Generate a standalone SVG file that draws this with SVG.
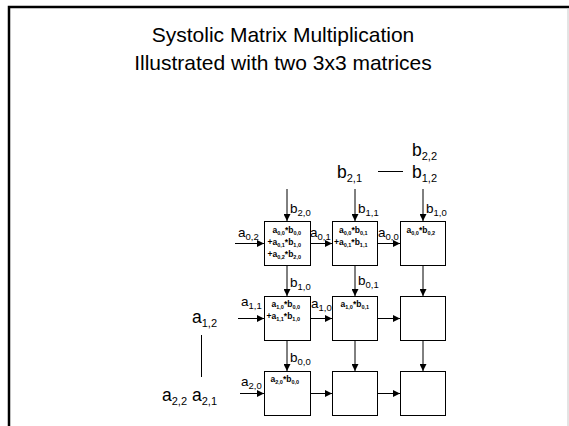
<svg xmlns="http://www.w3.org/2000/svg" width="569" height="426" viewBox="0 0 569 426">
<defs>
<marker id="ah" viewBox="0 0 8 8" refX="8" refY="4" markerWidth="7" markerHeight="7" markerUnits="userSpaceOnUse" orient="auto">
<path d="M0,0 L8,4 L0,8 z" fill="#000"/>
</marker>
<style>
text{font-family:"Liberation Sans",Arial,sans-serif;fill:#000}
.title{font-size:21px;text-anchor:middle}
.lbl{font-size:13.5px}
.big{font-size:17.5px}
.cell{font-size:8.5px;font-weight:bold}
.box{fill:#fff;stroke:#000;stroke-width:1}
.conn line{stroke:#000;stroke-width:1;marker-end:url(#ah)}
.plain{stroke:#000;stroke-width:1}
</style>
</defs>
<rect x="0" y="0" width="569" height="426" fill="#fff"/>
<path d="M9,426 V7 H569" fill="none" stroke="#000" stroke-width="2.5"/>
<line x1="568" y1="8" x2="568" y2="426" stroke="#c8c8c8" stroke-width="1"/>
<g id="title">
<text class="title" x="283" y="42">Systolic Matrix Multiplication</text>
<text class="title" x="283" y="70">Illustrated with two 3x3 matrices</text>
</g>
<g id="conn" class="conn">
<line x1="287" y1="189" x2="287" y2="221"/>
<line x1="355" y1="189" x2="355" y2="221"/>
<line x1="423" y1="189" x2="423" y2="221"/>
<line x1="287" y1="266" x2="287" y2="296"/>
<line x1="355" y1="266" x2="355" y2="296"/>
<line x1="423" y1="266" x2="423" y2="296"/>
<line x1="287" y1="341" x2="287" y2="371"/>
<line x1="355" y1="341" x2="355" y2="371"/>
<line x1="423" y1="341" x2="423" y2="371"/>
<line x1="235" y1="243.5" x2="264" y2="243.5"/>
<line x1="310" y1="243.5" x2="332" y2="243.5"/>
<line x1="378" y1="243.5" x2="400" y2="243.5"/>
<line x1="238" y1="318.5" x2="264" y2="318.5"/>
<line x1="310" y1="318.5" x2="332" y2="318.5"/>
<line x1="378" y1="318.5" x2="400" y2="318.5"/>
<line x1="240" y1="393.5" x2="264" y2="393.5"/>
<line x1="310" y1="393.5" x2="332" y2="393.5"/>
<line x1="378" y1="393.5" x2="400" y2="393.5"/>
</g>
<g id="pe00"><rect class="box" x="264.5" y="221.5" width="46" height="44"/>
<text class="cell" x="272.5" y="233">a<tspan font-size="5.5" dy="2">0,0</tspan><tspan dy="-2">*b</tspan><tspan font-size="5.5" dy="2">0,0</tspan></text>
<text class="cell" x="267.5" y="245">+a<tspan font-size="5.5" dy="2">0,1</tspan><tspan dy="-2">*b</tspan><tspan font-size="5.5" dy="2">1,0</tspan></text>
<text class="cell" x="267.5" y="257">+a<tspan font-size="5.5" dy="2">0,2</tspan><tspan dy="-2">*b</tspan><tspan font-size="5.5" dy="2">2,0</tspan></text>
</g>
<g id="pe01"><rect class="box" x="332.5" y="221.5" width="45" height="44"/>
<text class="cell" x="339" y="233">a<tspan font-size="5.5" dy="2">0,0</tspan><tspan dy="-2">*b</tspan><tspan font-size="5.5" dy="2">0,1</tspan></text>
<text class="cell" x="334" y="245">+a<tspan font-size="5.5" dy="2">0,1</tspan><tspan dy="-2">*b</tspan><tspan font-size="5.5" dy="2">1,1</tspan></text>
</g>
<g id="pe02"><rect class="box" x="400.5" y="221.5" width="45" height="44"/>
<text class="cell" x="406.5" y="233">a<tspan font-size="5.5" dy="2">0,0</tspan><tspan dy="-2">*b</tspan><tspan font-size="5.5" dy="2">0,2</tspan></text>
</g>
<g id="pe10"><rect class="box" x="264.5" y="296.5" width="46" height="44"/>
<text class="cell" x="271.5" y="307">a<tspan font-size="5.5" dy="2">1,0</tspan><tspan dy="-2">*b</tspan><tspan font-size="5.5" dy="2">0,0</tspan></text>
<text class="cell" x="266.5" y="319">+a<tspan font-size="5.5" dy="2">1,1</tspan><tspan dy="-2">*b</tspan><tspan font-size="5.5" dy="2">1,0</tspan></text>
</g>
<g id="pe11"><rect class="box" x="332.5" y="296.5" width="45" height="44"/>
<text class="cell" x="340.5" y="307">a<tspan font-size="5.5" dy="2">1,0</tspan><tspan dy="-2">*b</tspan><tspan font-size="5.5" dy="2">0,1</tspan></text>
</g>
<g id="pe12"><rect class="box" x="400.5" y="296.5" width="45" height="44"/>
</g>
<g id="pe20"><rect class="box" x="264.5" y="371.5" width="46" height="44"/>
<text class="cell" x="270.5" y="382">a<tspan font-size="5.5" dy="2">2,0</tspan><tspan dy="-2">*b</tspan><tspan font-size="5.5" dy="2">0,0</tspan></text>
</g>
<g id="pe21"><rect class="box" x="332.5" y="371.5" width="45" height="44"/>
</g>
<g id="pe22"><rect class="box" x="400.5" y="371.5" width="45" height="44"/>
</g>
<g id="labels">
<text class="lbl" x="290" y="213">b<tspan font-size="9.5" dy="3">2,0</tspan></text>
<text class="lbl" x="358" y="213">b<tspan font-size="9.5" dy="3">1,1</tspan></text>
<text class="lbl" x="426" y="213">b<tspan font-size="9.5" dy="3">1,0</tspan></text>
<text class="lbl" x="238" y="237">a<tspan font-size="9.5" dy="3">0,2</tspan></text>
<text class="lbl" x="310" y="237">a<tspan font-size="9.5" dy="3">0,1</tspan></text>
<text class="lbl" x="378" y="237">a<tspan font-size="9.5" dy="3">0,0</tspan></text>
<text class="lbl" x="290" y="287">b<tspan font-size="9.5" dy="3">1,0</tspan></text>
<text class="lbl" x="358" y="285">b<tspan font-size="9.5" dy="3">0,1</tspan></text>
<text class="lbl" x="241" y="306">a<tspan font-size="9.5" dy="3">1,1</tspan></text>
<text class="lbl" x="311" y="308">a<tspan font-size="9.5" dy="3">1,0</tspan></text>
<text class="lbl" x="290" y="362">b<tspan font-size="9.5" dy="3">0,0</tspan></text>
<text class="lbl" x="241" y="386">a<tspan font-size="9.5" dy="3">2,0</tspan></text>
</g>
<g id="queueA">
<text class="big" x="192" y="323">a<tspan font-size="11" dy="4">1,2</tspan></text>
<line class="plain" x1="201.5" y1="335" x2="201.5" y2="377"/>
<text class="big" x="192" y="401">a<tspan font-size="11" dy="4">2,1</tspan></text>
<text class="big" x="162" y="401">a<tspan font-size="11" dy="4">2,2</tspan></text>
</g>
<g id="queueB">
<text class="big" x="412" y="156">b<tspan font-size="11" dy="4">2,2</tspan></text>
<text class="big" x="412" y="178">b<tspan font-size="11" dy="4">1,2</tspan></text>
<text class="big" x="337" y="178">b<tspan font-size="11" dy="4">2,1</tspan></text>
<line class="plain" x1="378" y1="171.5" x2="403" y2="171.5"/>
</g>
</svg>
